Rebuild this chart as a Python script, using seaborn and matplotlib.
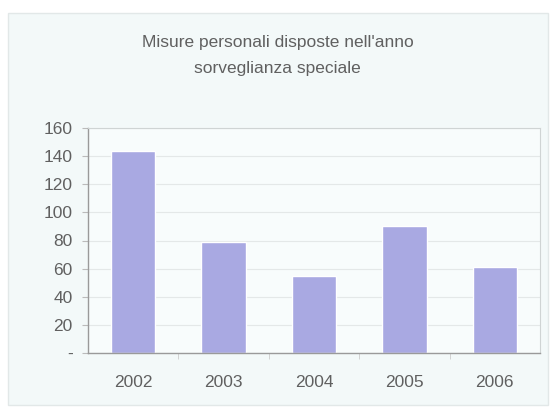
import seaborn as sns
import matplotlib.pyplot as plt
import pandas as pd
from matplotlib.patches import Rectangle
from matplotlib.ticker import FixedLocator

sns.set_style("white")
plt.rcParams["font.family"] = ["Liberation Sans", "DejaVu Sans"]

# Data
anni = ["2002", "2003", "2004", "2005", "2006"]
misure = [144, 79, 55, 90, 61]
y_ticks = [0, 20, 40, 60, 80, 100, 120, 140, 160]
y_labels = ["-", "20", "40", "60", "80", "100", "120", "140", "160"]

data = pd.DataFrame({"Anno": anni, "Misure": misure})

fig = plt.figure(figsize=(5.55, 4.12), dpi=100)
fig.patch.set_facecolor("white")

# light chart-area panel, behind the axes
panel = Rectangle((8 / 555, 1 - 405 / 412), 540 / 555, 392 / 412,
                  transform=fig.transFigure, facecolor="#f3f9f9",
                  edgecolor="#e2e8e8", linewidth=1.0, zorder=-10)
fig.add_artist(panel)

ax = fig.add_axes([88 / 555, 1 - 353 / 412, 452 / 555, 225 / 412])
ax.set_facecolor("#f8fcfc")

sns.barplot(data=data, x="Anno", y="Misure", color="#a9a9e2",
            width=0.49, saturation=1, ax=ax, zorder=2)

ax.set_ylim(0, 160)
ax.set_xlim(-0.5, 4.5)
ax.set_yticks(y_ticks)
ax.set_yticklabels(y_labels)
ax.yaxis.grid(True, color="#e4e8e8", linewidth=0.8, zorder=0)
ax.set_axisbelow(True)

ax.set_xlabel("")
ax.set_ylabel("")

for side in ["left", "bottom"]:
    ax.spines[side].set_color("#9a9a9a")
    ax.spines[side].set_linewidth(1.0)
for side in ["top", "right"]:
    ax.spines[side].set_visible(True)
    ax.spines[side].set_color("#cfd4d4")
    ax.spines[side].set_linewidth(0.8)

ax.tick_params(axis="y", which="major", left=True, length=4, color="#bbbbbb",
               labelsize=12.5, labelcolor="#606060", pad=7)
ax.tick_params(axis="x", which="major", bottom=False, labelsize=12.5,
               labelcolor="#606060", pad=12)
ax.xaxis.set_minor_locator(FixedLocator([0.5, 1.5, 2.5, 3.5]))
ax.tick_params(axis="x", which="minor", bottom=True, length=4, color="#cccccc")

fig.text(0.5, 1 - 42 / 412, "Misure personali disposte nell'anno",
         ha="center", va="center", fontsize=12.5, color="#606060")
fig.text(0.5, 1 - 68 / 412, "sorveglianza speciale",
         ha="center", va="center", fontsize=12.5, color="#606060")

fig.savefig("out.png", dpi=100)
plt.close(fig)
